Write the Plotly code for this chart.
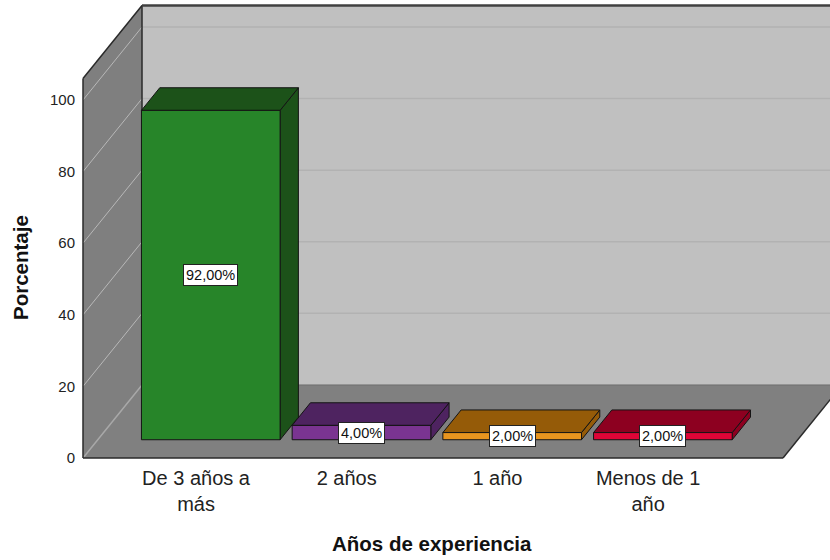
import plotly.graph_objects as go

# Data
categories = ["De 3 años a<br>más", "2 años", "1 año", "Menos de 1<br>año"]
values = [92.0, 4.0, 2.0, 2.0]
labels = ["92,00%", "4,00%", "2,00%", "2,00%"]
y_ticks = [0, 20, 40, 60, 80, 100]

front_colors = ["#278529", "#7A3491", "#E8951F", "#DE0537"]
dark_colors = ["#1C5219", "#4E2360", "#955B08", "#8D0020"]

FONT = "Liberation Sans, Arial"

# Oblique projection: depth f in [0, 1] shifts points right and up
DX = 0.3915      # category units per full depth
DY = 20.4        # value units per full depth
X_MIN, X_FLOOR, X_FAR = -0.75, 3.895, 6.0
V_TOP = 106.0
BAR_W = 0.92
F0, F1 = 0.25, 0.56


def proj(x, v, f):
    return x + f * DX, v + f * DY


def poly(pts, fill, line_color="rgba(0,0,0,0)", width=0):
    xs, ys = zip(*[proj(*p) for p in pts])
    xs = list(xs) + [xs[0]]
    ys = list(ys) + [ys[0]]
    return go.Scatter(x=xs, y=ys, mode="lines", fill="toself", fillcolor=fill,
                      line=dict(color=line_color, width=width),
                      hoverinfo="skip", showlegend=False)


def seg(p, q, color, width):
    (x0, y0), (x1, y1) = proj(*p), proj(*q)
    return go.Scatter(x=[x0, x1], y=[y0, y1], mode="lines",
                      line=dict(color=color, width=width),
                      hoverinfo="skip", showlegend=False)


fig = go.Figure()

# Walls and floor
fig.add_trace(poly([(X_MIN, 0, 1), (X_FAR, 0, 1), (X_FAR, V_TOP, 1), (X_MIN, V_TOP, 1)], "#C0C0C0"))
fig.add_trace(poly([(X_MIN, 0, 0), (X_MIN, V_TOP, 0), (X_MIN, V_TOP, 1), (X_MIN, 0, 1)], "#7F7F7F"))
fig.add_trace(poly([(X_MIN, 0, 0), (X_FLOOR, 0, 0), (X_FLOOR, 0, 1), (X_MIN, 0, 1)], "#808080"))

# Gridlines on back and side walls
for v in y_ticks[1:]:
    fig.add_trace(seg((X_MIN, v, 1), (X_FAR, v, 1), "#B2B2B2", 1.5))
    fig.add_trace(seg((X_MIN, v, 0), (X_MIN, v, 1), "#B8B8B8", 1))
fig.add_trace(seg((X_MIN, 0, 1), (X_FAR, 0, 1), "#6E6E6E", 1))
fig.add_trace(seg((X_MIN, 0, 0), (X_MIN, 0, 1), "#A8A8A8", 1.5))

# Frame edges
edge = "#2A2A2A"
fig.add_trace(seg((X_MIN, 0, 0), (X_MIN, V_TOP, 0), edge, 1.5))
fig.add_trace(seg((X_MIN, V_TOP, 0), (X_MIN, V_TOP, 1), edge, 1.5))
fig.add_trace(seg((X_MIN, 0, 1), (X_MIN, V_TOP, 1), edge, 1.5))
fig.add_trace(seg((X_MIN, V_TOP, 1), (X_FAR, V_TOP, 1), "#404040", 2.5))
fig.add_trace(seg((X_MIN, 0, 0), (X_FLOOR, 0, 0), edge, 1.5))
fig.add_trace(seg((X_FLOOR, 0, 0), (X_FLOOR, 0, 1), edge, 1.5))

# Bars
outline = "#141414"
for i, (v, fc, dc) in enumerate(zip(values, front_colors, dark_colors)):
    xl, xr = i - BAR_W / 2, i + BAR_W / 2
    fig.add_trace(poly([(xr, 0, F0), (xr, v, F0), (xr, v, F1), (xr, 0, F1)], dc, outline, 1))
    fig.add_trace(poly([(xl, v, F0), (xr, v, F0), (xr, v, F1), (xl, v, F1)], dc, outline, 1))
    fig.add_trace(poly([(xl, 0, F0), (xr, 0, F0), (xr, v, F0), (xl, v, F0)], fc, outline, 1))

# Value labels on the front faces
for i, (v, lab) in enumerate(zip(values, labels)):
    lx, ly = proj(i, v / 2, F0)
    fig.add_annotation(x=lx, y=ly, text=lab, showarrow=False,
                       xanchor="center", yanchor="middle",
                       font=dict(family=FONT, size=14.5, color="#111"),
                       bgcolor="white", bordercolor="#222", borderwidth=1, borderpad=2)

L, T, B = 80, 3, 100
px_cat = 150.7
px_val = 3.58
plot_w = 830 - L
plot_h = 560 - T - B
x0 = X_MIN - 3 / px_cat
y0 = -2 / px_val

# Axis titles placed in pixel terms converted to paper fractions
fig.add_annotation(text="<b>Porcentaje</b>", xref="paper", yref="paper",
                   x=(20 - L) / plot_w, y=(560 - B - 268) / plot_h,
                   xanchor="center", yanchor="middle", textangle=-90, showarrow=False,
                   font=dict(family=FONT, size=20.5, color="#111"))
fig.add_annotation(text="<b>Años de experiencia</b>", xref="paper", yref="paper",
                   x=(432 - L) / plot_w, y=(560 - B - 543) / plot_h,
                   xanchor="center", yanchor="middle", showarrow=False,
                   font=dict(family=FONT, size=20.5, color="#111"))

fig.update_layout(
    width=830, height=560,
    margin=dict(l=L, r=0, t=T, b=B),
    paper_bgcolor="white", plot_bgcolor="white",
    showlegend=False,
    xaxis=dict(range=[x0, x0 + plot_w / px_cat], tickvals=list(range(len(categories))),
               ticktext=categories, showgrid=False, zeroline=False, showline=False,
               ticks="", ticklabelstandoff=4,
               tickfont=dict(family=FONT, size=20, color="#222")),
    yaxis=dict(range=[y0, y0 + plot_h / px_val], tickvals=y_ticks,
               showgrid=False, zeroline=False, showline=False,
               ticks="", ticklabelstandoff=4,
               tickfont=dict(family=FONT, size=15, color="#222")),
)

fig.write_html("out.html")
